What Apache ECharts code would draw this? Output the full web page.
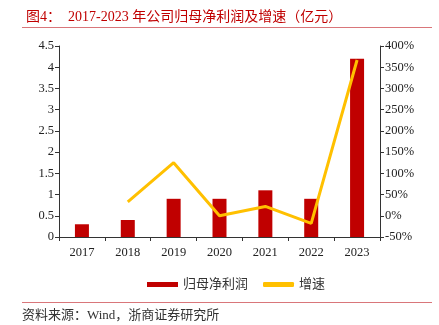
<!DOCTYPE html>
<html><head><meta charset="utf-8">
<script src="https://cdn.jsdelivr.net/npm/echarts@6/dist/echarts.min.js"></script>
<style>html,body{margin:0;padding:0;background:#fff}#c{width:439px;height:325px}</style>
</head><body><div id="c"></div>
<script>
const categories = ['2017','2018','2019','2020','2021','2022','2023'];
const profit = [0.3, 0.4, 0.9, 0.9, 1.1, 0.9, 4.2];
const growth = [null, 33, 125, 0, 22, -18, 367];
const leftTicks = [0, 0.5, 1, 1.5, 2, 2.5, 3, 3.5, 4, 4.5];
const rightTicks = [-50, 0, 50, 100, 150, 200, 250, 300, 350, 400];

const serif = '"Liberation Serif", "Noto Sans CJK SC", serif';
const chart = echarts.init(document.getElementById('c'));
chart.setOption({
  animation: false,
  backgroundColor: '#fff',
  title: {
    text: '图4：  2017-2023 年公司归母净利润及增速（亿元）',
    left: 21, top: 5,
    textStyle: { color: '#C00000', fontFamily: serif, fontSize: 14, fontWeight: 'normal' }
  },
  graphic: [
    { type: 'line', shape: { x1: 22, y1: 27.5, x2: 432, y2: 27.5 }, style: { stroke: '#D9767A', lineWidth: 1 } },
    { type: 'line', shape: { x1: 22, y1: 302.5, x2: 432, y2: 302.5 }, style: { stroke: '#D9767A', lineWidth: 1 } },
    { type: 'text', left: 22, top: 309, style: { text: '资料来源：Wind，浙商证券研究所', fill: '#333', font: '13px ' + serif } }
  ],
  legend: {
    left: 142, top: 273,
    itemWidth: 31, itemHeight: 5, itemGap: 15,
    textStyle: { fontFamily: serif, fontSize: 13, color: '#333' },
    data: [
      { name: '归母净利润', icon: 'rect' },
      { name: '增速', icon: 'roundRect' }
    ]
  },
  grid: { left: 59, right: 59, top: 46, bottom: 88 },
  xAxis: {
    type: 'category', data: categories,
    axisLine: { lineStyle: { color: '#333', width: 1 } },
    axisTick: { show: true, length: 4, lineStyle: { color: '#333' } },
    axisLabel: { color: '#222', fontFamily: serif, fontSize: 12.5, margin: 9 }
  },
  yAxis: [
    {
      type: 'value', min: leftTicks[0], max: leftTicks[leftTicks.length - 1], interval: 0.5,
      splitLine: { show: false },
      axisLine: { show: true, lineStyle: { color: '#333' } },
      axisTick: { show: true, length: 4, lineStyle: { color: '#333' } },
      axisLabel: { color: '#222', fontFamily: serif, fontSize: 12.5, margin: 5 }
    },
    {
      type: 'value', min: rightTicks[0], max: rightTicks[rightTicks.length - 1], interval: 50,
      splitLine: { show: false },
      axisLine: { show: true, lineStyle: { color: '#333' } },
      axisTick: { show: true, length: 4, lineStyle: { color: '#333' } },
      axisLabel: { color: '#222', fontFamily: serif, fontSize: 12.5, margin: 5, formatter: '{value}%' }
    }
  ],
  series: [
    {
      name: '归母净利润', type: 'bar', data: profit, barWidth: 14,
      itemStyle: { color: '#C00000' }
    },
    {
      name: '增速', type: 'line', yAxisIndex: 1, data: growth,
      symbol: 'none', connectNulls: false,
      lineStyle: { color: '#FFC000', width: 3 },
      itemStyle: { color: '#FFC000' }
    }
  ]
});
</script></body></html>
